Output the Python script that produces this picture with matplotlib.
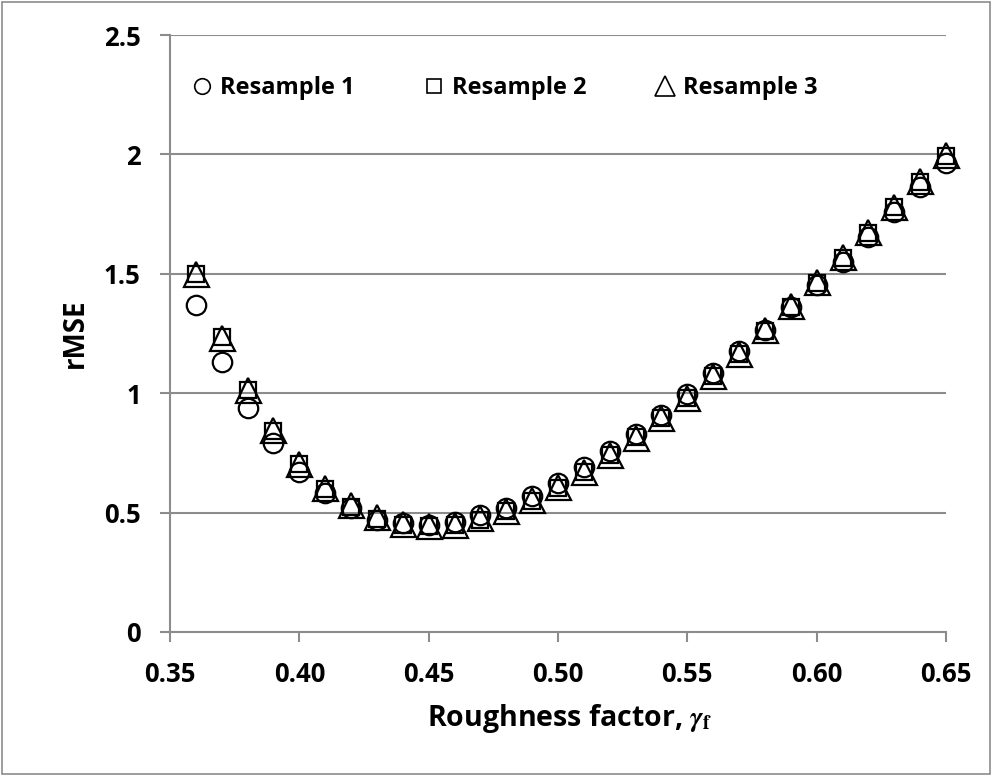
import matplotlib.pyplot as plt
from matplotlib.patches import Rectangle

plt.rcParams['font.family'] = ['Open Sans', 'DejaVu Sans']
plt.rcParams['font.weight'] = 'bold'
plt.rcParams['mathtext.fontset'] = 'stix'

# roughness factor values
gamma_f = [0.36, 0.37, 0.38, 0.39, 0.40, 0.41, 0.42, 0.43, 0.44, 0.45,
           0.46, 0.47, 0.48, 0.49, 0.50, 0.51, 0.52, 0.53, 0.54, 0.55,
           0.56, 0.57, 0.58, 0.59, 0.60, 0.61, 0.62, 0.63, 0.64, 0.65]

resample1 = [1.37, 1.13, 0.94, 0.79, 0.67, 0.58, 0.52, 0.47, 0.455, 0.45,
             0.46, 0.49, 0.52, 0.57, 0.625, 0.69, 0.76, 0.83, 0.91, 0.995,
             1.085, 1.175, 1.265, 1.36, 1.455, 1.55, 1.655, 1.76, 1.865, 1.965]

resample2 = [1.50, 1.235, 1.015, 0.84, 0.705, 0.60, 0.525, 0.475, 0.448, 0.443,
             0.45, 0.47, 0.505, 0.55, 0.605, 0.67, 0.74, 0.815, 0.895, 0.98,
             1.07, 1.165, 1.262, 1.362, 1.462, 1.565, 1.672, 1.778, 1.886, 1.995]

resample3 = [1.50, 1.23, 1.015, 0.845, 0.705, 0.605, 0.53, 0.48, 0.452, 0.442,
             0.45, 0.476, 0.508, 0.553, 0.607, 0.672, 0.74, 0.814, 0.896, 0.98,
             1.07, 1.166, 1.263, 1.364, 1.465, 1.569, 1.675, 1.781, 1.89, 1.998]

x_ticks = [0.35, 0.40, 0.45, 0.50, 0.55, 0.60, 0.65]
y_ticks = [0, 0.5, 1, 1.5, 2, 2.5]
y_labels = ['0', '0.5', '1', '1.5', '2', '2.5']

fig = plt.figure(figsize=(9.93, 7.76), dpi=100)
ax = fig.add_axes([170 / 993, 1 - 632 / 776, 776 / 993, 597 / 776])

grey = '#8c8c8c'
ax.plot(gamma_f, resample1, 'o', ms=14, mfc='none', mec='black', mew=1.6,
        clip_on=False, zorder=3, label='Resample 1')
ax.plot(gamma_f, resample2, 's', ms=12, mfc='none', mec='black', mew=1.6,
        clip_on=False, zorder=3, label='Resample 2')
ax.plot(gamma_f, resample3, '^', ms=18, mfc='none', mec='black', mew=1.6,
        clip_on=False, zorder=3, label='Resample 3')

ax.set_xlim(0.35, 0.65)
ax.set_ylim(0, 2.5)
ax.set_xticks(x_ticks)
ax.set_xticklabels(['%.2f' % v for v in x_ticks])
ax.set_yticks(y_ticks)
ax.set_yticklabels(y_labels)
ax.tick_params(axis='both', labelsize=18.5, direction='out', color=grey,
               width=1.5, length=7, pad=14)
ax.yaxis.grid(True, color=grey, lw=1.5)
ax.set_axisbelow(True)
for s in ['top', 'right']:
    ax.spines[s].set_visible(False)
for s in ['left', 'bottom']:
    ax.spines[s].set_color(grey)
    ax.spines[s].set_linewidth(1.5)

ax.set_ylabel('rMSE', fontsize=20, fontweight='bold', labelpad=10)
ax.set_xlabel(r'Roughness factor, $\gamma_{\mathrm{f}}$', fontsize=20.5,
              fontweight='bold', labelpad=10)
ax.xaxis.label.set_x(0.515)

leg = ax.legend(loc='center', bbox_to_anchor=(0.432, 0.911), ncol=3,
                frameon=False, fontsize=17, markerscale=0.8,
                handlelength=0.8, handletextpad=0.35, columnspacing=2.95)
for h in leg.legend_handles:
    h.set_markeredgewidth(1.2)

fig.patches.append(Rectangle((0.002, 0.002), 0.995, 0.995,
                             transform=fig.transFigure, fill=False,
                             edgecolor=grey, lw=1.2))

fig.savefig('out.png', dpi=100)
